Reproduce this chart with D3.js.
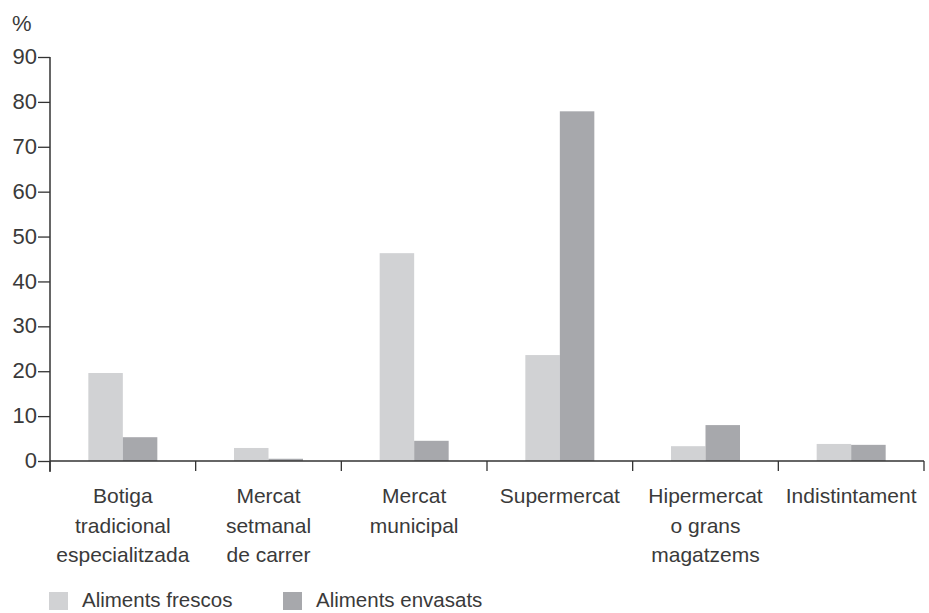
<!DOCTYPE html>
<html><head><meta charset="utf-8">
<script src="https://cdn.jsdelivr.net/npm/d3@7"></script>
<style>
body{margin:0;background:#fff;}
text{font-family:"Liberation Sans",Arial,sans-serif;font-weight:400;fill:#3a3a3a;}
</style></head>
<body>
<svg id="chart" width="929" height="613"></svg>
<script>
const categories = [
  ["Botiga","tradicional","especialitzada"],
  ["Mercat","setmanal","de carrer"],
  ["Mercat","municipal"],
  ["Supermercat"],
  ["Hipermercat","o grans","magatzems"],
  ["Indistintament"]
];
const seriesNames = ["Aliments frescos","Aliments envasats"];
const frescos  = [19.6, 2.9, 46.3, 23.6, 3.3, 3.8];
const envasats = [5.3, 0.5, 4.5, 77.9, 8.0, 3.6];
const yTicks = [0,10,20,30,40,50,60,70,80,90];
const colors = ["#d1d2d4","#a7a8ac"];

const svg = d3.select("#chart");
const keys = categories.map((c,i)=>"c"+i);
const x0 = d3.scaleBand().domain(keys).range([50,924]).padding(0);
const y = d3.scaleLinear().domain([0,90]).range([461,57]);
const pairW = 69;
const x1 = d3.scaleBand().domain(seriesNames).range([0,pairW]).padding(0);
const values = [frescos, envasats];

// bars
const g = svg.append("g");
keys.forEach((k,i)=>{
  const cx = x0(k) + x0.bandwidth()/2 - pairW/2;
  seriesNames.forEach((s,j)=>{
    g.append("rect")
      .attr("x", cx + x1(s))
      .attr("width", x1.bandwidth())
      .attr("y", y(values[j][i]))
      .attr("height", y(0)-y(values[j][i]))
      .attr("fill", colors[j]);
  });
});

// y axis
const yAxis = d3.axisLeft(y).tickValues(yTicks).tickSize(12).tickPadding(1);
const ya = svg.append("g").attr("transform","translate(50,0)").call(yAxis);
ya.select(".domain").remove();
ya.selectAll(".tick line").attr("stroke","#333").attr("stroke-width",1.3);
ya.selectAll(".tick text").style("font-size","22px").attr("fill","#3a3a3a").attr("font-family",null).attr("dy","0.3em");
svg.append("line").attr("x1",50).attr("x2",50).attr("y1",y(90)).attr("y2",472)
  .attr("stroke","#333").attr("stroke-width",1.5);

// x axis
svg.append("line").attr("x1",50).attr("x2",924).attr("y1",y(0)).attr("y2",y(0))
  .attr("stroke","#333").attr("stroke-width",1.5);
const bounds = keys.map(k=>x0(k)).concat([x0.range()[1]]);
svg.selectAll(".xt").data(bounds).enter().append("line")
  .attr("x1",d=>d).attr("x2",d=>d).attr("y1",y(0)).attr("y2",y(0)+10)
  .attr("stroke","#333").attr("stroke-width",1.3);

// category labels
keys.forEach((k,i)=>{
  const t = svg.append("text").attr("text-anchor","middle")
    .attr("x", x0(k)+x0.bandwidth()/2).attr("y",503).style("font-size","21px");
  categories[i].forEach((line,li)=>{
    t.append("tspan").attr("x", x0(k)+x0.bandwidth()/2).attr("y",503+li*29.5).text(line);
  });
});

// % label
svg.append("text").attr("x",12).attr("y",31).style("font-size","22px").text("%");

// legend
const legX = [49,283];
seriesNames.forEach((s,j)=>{
  svg.append("rect").attr("x",legX[j]).attr("y",592).attr("width",19).attr("height",18).attr("fill",colors[j]);
  svg.append("text").attr("x",legX[j]+33).attr("y",607).style("font-size","20.5px").text(s);
});
</script>
</body></html>
